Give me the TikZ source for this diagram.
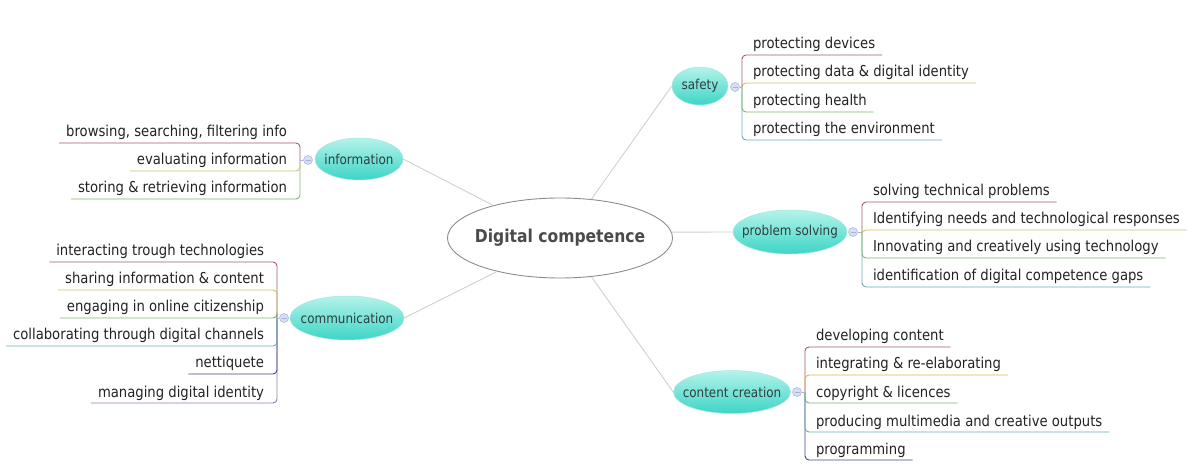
\documentclass[tikz,border=0pt]{standalone}
\usepackage{fontspec}
\setmainfont{DejaVu Sans}[FakeStretch=0.88]
\usetikzlibrary{shapes.geometric}
\definecolor{hubline}{HTML}{8C8C8C}
\definecolor{hubtext}{HTML}{4A4A4A}
\definecolor{topicline}{HTML}{A6E6DE}
\definecolor{topictop}{HTML}{B4F3EA}
\definecolor{topicbot}{HTML}{3DD5C6}
\definecolor{topictext}{HTML}{2C3E40}
\definecolor{knobline}{HTML}{A4B4DA}
\definecolor{knobfill}{HTML}{D6DEF2}
\definecolor{branchgrey}{HTML}{D0D0D0}
\definecolor{leaftext}{HTML}{222222}
\definecolor{cred}{HTML}{A85A62}
\definecolor{colive}{HTML}{CDC172}
\definecolor{corange}{HTML}{DEB252}
\definecolor{cgreen}{HTML}{7AB46A}
\definecolor{cteal}{HTML}{6AAAB8}
\definecolor{cnavy}{HTML}{3E4A8C}
\definecolor{cpurple}{HTML}{9A78B0}
\newcommand\zw[1]{\makebox[0pt][c]{#1}}
\tikzset{
 hub/.style={ellipse, draw=hubline, line width=0.9pt, fill=white, minimum width=225pt, minimum height=80pt, inner sep=0pt, font=\bfseries\fontsize{17.7}{20}\selectfont, text=hubtext},
 topic/.style={ellipse, draw=topicline, line width=0.5pt, top color=topictop, bottom color=topicbot, minimum height=43pt, inner sep=0pt, font=\fontsize{13.6}{16}\selectfont, text=topictext},
 knob/.style={circle, draw=knobline, fill=knobfill, minimum size=9pt, inner sep=0pt, line width=0.5pt, path picture={\draw[knobline, line width=0.8pt] ([xshift=2pt]path picture bounding box.west) -- ([xshift=-2pt]path picture bounding box.east);}},
 branch/.style={draw=branchgrey, line width=0.9pt},
 leafR/.style={anchor=base west, inner xsep=7pt, inner ysep=0pt, text depth=6pt, outer sep=0pt, font=\fontsize{15}{18}\selectfont, text=leaftext},
 leafL/.style={leafR, anchor=base east},
 twig/.style={line width=0.9pt, rounded corners=4pt},
}
\begin{document}
\begin{tikzpicture}[x=1pt,y=-1pt]
\useasboundingbox (0,0) rectangle (1192,470);
% hub and topics
\node[hub] (dc) at (560,238) {\zw{Digital competence}};
\node[topic, minimum width=56pt, minimum height=38pt] (saf) at (700,86) {\zw{safety}};
\node[topic, minimum width=88pt, minimum height=42pt] (inf) at (359,159) {\zw{information}};
\node[topic, minimum width=114pt, minimum height=44pt] (com) at (347,318) {\zw{communication}};
\node[topic, minimum width=114pt, minimum height=44pt] (pro) at (790,232) {\zw{problem solving}};
\node[topic, minimum width=117pt, minimum height=43pt] (cre) at (732,392) {\zw{content creation}};
% branches
\draw[branch] (dc.51) -- (saf.west);
\draw[branch] (dc.154) -- (inf.east);
\draw[branch] (dc.208) -- (com.east);
\draw[branch] (dc.3) -- (pro.west);
\draw[branch] (dc.309) -- (cre.west);
% knobs and bracket points
\node[knob] (ksaf) at (735,87) {};
\node[knob] (kinf) at (308,160) {};
\node[knob] (kcom) at (284,318) {};
\node[knob] (kpro) at (853,232) {};
\node[knob] (kcre) at (797,392) {};
\coordinate (bsaf) at (742,87);
\coordinate (binf) at (300,160);
\coordinate (bcom) at (277,318);
\coordinate (bpro) at (862,232);
\coordinate (bcre) at (805,392);
% safety leaves
\node[leafR] (s1) at (746,49) {protecting devices};
\node[leafR] (s2) at (746,77) {protecting data \& digital identity};
\node[leafR] (s3) at (746,106) {protecting health};
\node[leafR] (s4) at (746,134) {protecting the environment};
\draw[twig, cteal] (bsaf) |- (s4.south east);
\draw[twig, cgreen] (bsaf) |- (s3.south east);
\draw[twig, colive] (bsaf) |- (s2.south east);
\draw[twig, cred] (bsaf) |- (s1.south east);
% information leaves
\node[leafL] (i1) at (294,137) {browsing, searching, filtering info};
\node[leafL] (i2) at (294,165) {evaluating information};
\node[leafL] (i3) at (294,193) {storing \& retrieving information};
\draw[twig, cgreen] (binf) |- (i3.south west);
\draw[twig, colive] (binf) |- (i2.south west);
\draw[twig, cred] (binf) |- (i1.south west);
% communication leaves
\node[leafL] (m1) at (271,256) {interacting trough technologies};
\node[leafL] (m2) at (271,284) {sharing information \& content};
\node[leafL] (m3) at (271,312) {engaging in online citizenship};
\node[leafL] (m4) at (271,340) {collaborating through digital channels};
\node[leafL] (m5) at (271,368) {nettiquete};
\node[leafL] (m6) at (271,397) {managing digital identity};
\draw[twig, cpurple] (bcom) |- (m6.south west);
\draw[twig, cnavy] (bcom) |- (m5.south west);
\draw[twig, cteal] (bcom) |- (m4.south west);
\draw[twig, cred] (bcom) |- (m1.south west);
\draw[twig, colive] (bcom) |- (m2.south west);
\draw[twig, cgreen] (bcom) |- (m3.south west);
% problem solving leaves
\node[leafR] (p1) at (866,196) {solving technical problems};
\node[leafR] (p2) at (866,224) {Identifying needs and technological responses};
\node[leafR] (p3) at (866,252) {Innovating and creatively using technology};
\node[leafR] (p4) at (866,281) {identification of digital competence gaps};
\draw[twig, cteal] (bpro) |- (p4.south east);
\draw[twig, cgreen] (bpro) |- (p3.south east);
\draw[twig, cred] (bpro) |- (p1.south east);
\draw[twig, colive] (bpro) |- (p2.south east);
% content creation leaves
\node[leafR] (r1) at (809,341) {developing content};
\node[leafR] (r2) at (809,369) {integrating \& re-elaborating};
\node[leafR] (r3) at (809,397) {copyright \& licences};
\node[leafR] (r4) at (809,426) {producing multimedia and creative outputs};
\node[leafR] (r5) at (809,454) {programming};
\draw[twig, cnavy] (bcre) |- (r5.south east);
\draw[twig, cteal] (bcre) |- (r4.south east);
\draw[twig, cred] (bcre) |- (r1.south east);
\draw[twig, corange] (bcre) |- (r2.south east);
\draw[twig, cgreen] (bcre) |- (r3.south east);
% knob to bracket
\draw[twig, knobline] (ksaf) -- (bsaf);
\draw[twig, knobline] (kinf) -- (binf);
\draw[twig, knobline] (kcom) -- (bcom);
\draw[twig, knobline] (kpro) -- (bpro);
\draw[twig, knobline] (kcre) -- (bcre);
\end{tikzpicture}
\end{document}
